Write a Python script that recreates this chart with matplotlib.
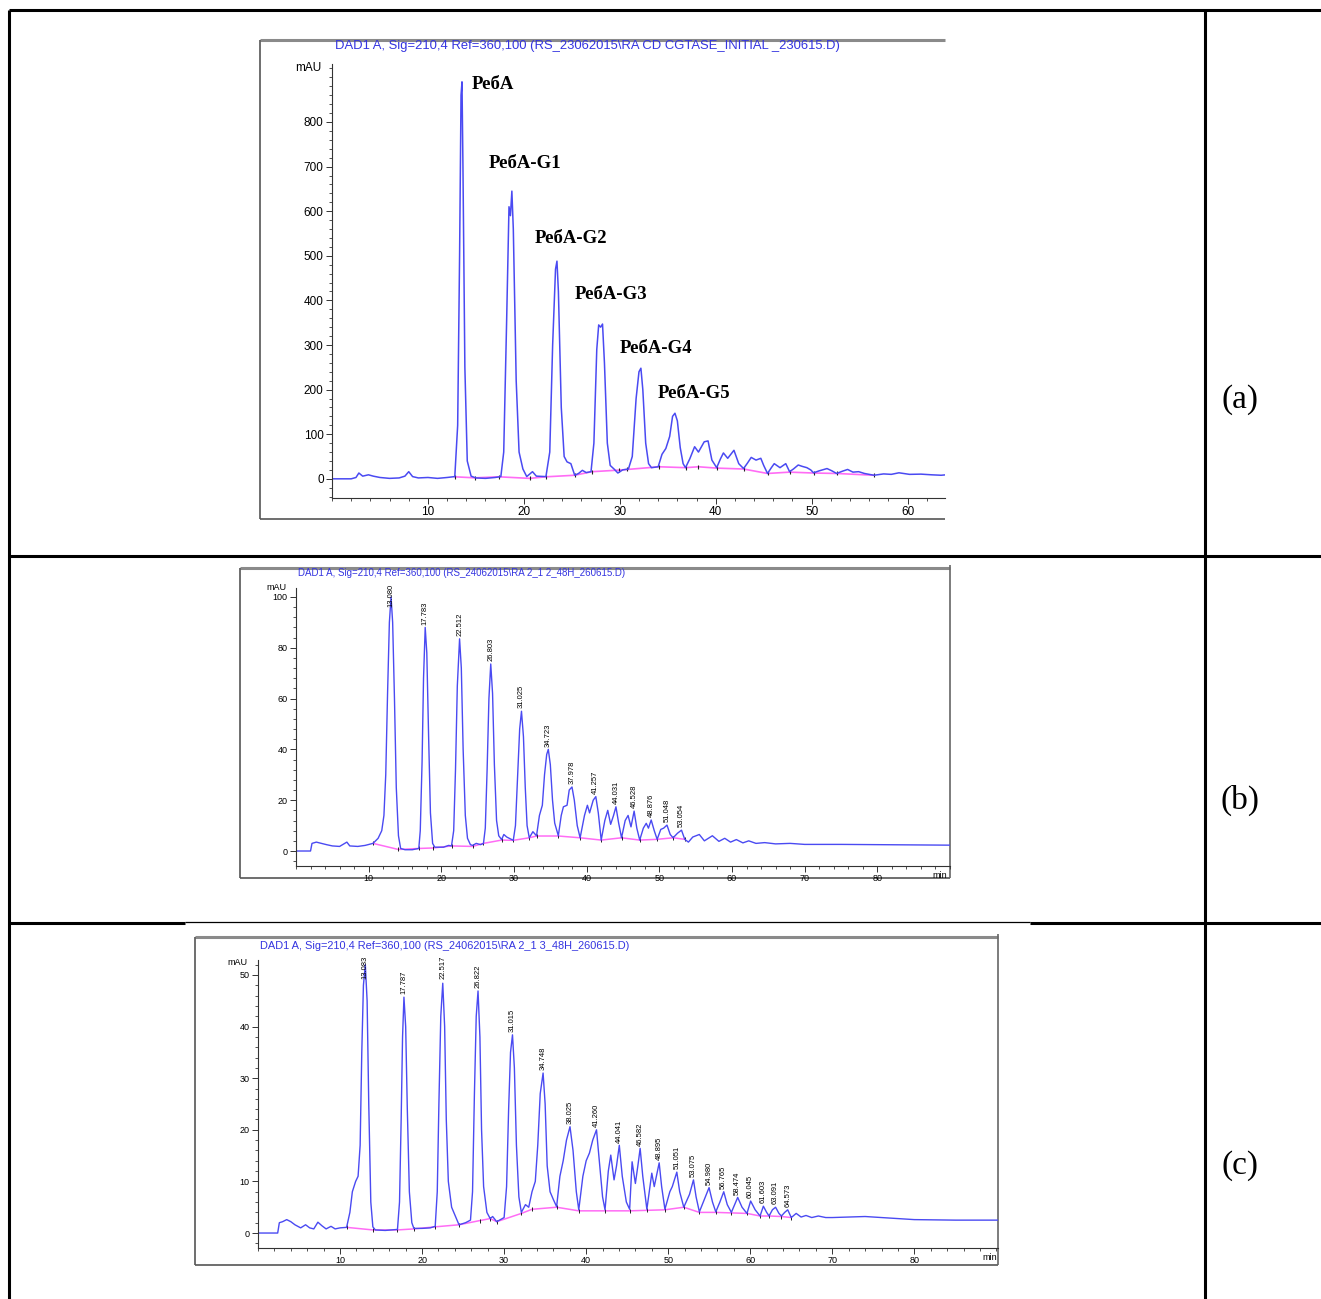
import matplotlib
matplotlib.use('Agg')
import matplotlib.pyplot as plt
from matplotlib.ticker import MultipleLocator

# ---- panel (a): initial reaction, RebA + glucosylated products ----
a_time = [0, 2.0, 2.5, 2.8, 3.2, 3.8, 4.3, 5.0, 6.0, 7.0, 7.6, 8.0, 8.4, 9.0, 10.0, 11.0, 12.0,
          12.8, 13.1, 13.3, 13.45, 13.55, 13.65, 13.85, 14.1, 14.5, 15.0, 16.0, 17.0,
          17.6, 17.9, 18.2, 18.45, 18.6, 18.75, 18.9, 19.2, 19.5, 19.9, 20.3, 20.9, 21.3,
          22.3, 22.7, 23.0, 23.3, 23.45, 23.6, 23.9, 24.2, 24.5, 24.9, 25.3, 25.7, 26.1, 26.5,
          27.0, 27.3, 27.6, 27.8, 28.0, 28.2, 28.4, 28.7, 29.0, 29.4, 29.8, 30.3, 30.9,
          31.3, 31.7, 32.0, 32.2, 32.4, 32.7, 33.0, 33.3, 34.0, 34.4, 34.8, 35.2, 35.5,
          35.75, 36.0, 36.3, 36.6, 36.85, 37.3, 37.8, 38.2, 38.8, 39.2, 39.6, 40.1,
          40.5, 40.8, 41.25, 41.9, 42.4, 42.9, 43.3, 43.7, 44.2, 44.7, 45.0, 45.4,
          45.8, 46.1, 46.7, 47.3, 47.7, 48.1, 48.6, 49.0, 49.5, 49.9, 50.2, 50.8, 51.6,
          52.1, 52.6, 53.2, 53.75, 54.3, 54.9, 55.5, 56.5, 57.5, 58.3, 59.1, 60.2, 61.4,
          62.5, 63.5, 64.0]
a_mau = [0, 0, 3, 13, 6, 9, 6, 3, 1, 2, 6, 16, 5, 2, 3, 1, 3,
         5, 120, 500, 860, 890, 700, 250, 40, 6, 2, 1, 3,
         5, 60, 350, 610, 590, 645, 560, 220, 60, 22, 5, 16, 6,
         5, 60, 300, 470, 488, 420, 160, 50, 38, 34, 8, 12, 19, 14,
         16, 80, 290, 345, 340, 347, 260, 80, 30, 22, 13, 20, 22,
         50, 180, 240, 248, 200, 80, 34, 25, 27, 55, 68, 95, 140,
         147, 130, 70, 34, 25, 45, 72, 60, 83, 85, 42, 25,
         45, 58, 46, 64, 34, 23, 35, 48, 42, 46, 30, 12,
         25, 34, 25, 34, 16, 22, 31, 28, 25, 20, 13.5, 18, 23,
         18, 12, 17, 21, 15, 16, 12, 8, 11, 10, 13.5, 10, 10.5,
         9, 8, 9]
a_base_time = [12.8, 14.9, 17.4, 20.6, 22.3, 25.3, 27.1, 29.9, 30.8, 34.1, 36.85, 38.2,
               40.1, 42.9, 45.4, 47.7, 50.2, 52.6, 56.5]
a_base_mau = [4.5, 2.2, 4.5, 1, 4.5, 8, 16, 19.5, 21, 27, 25, 27,
              24, 22, 12, 15, 13, 12, 8]
a_names = ['\u0420\u0435\u0431\u0410', '\u0420\u0435\u0431\u0410-G1', '\u0420\u0435\u0431\u0410-G2',
           '\u0420\u0435\u0431\u0410-G3', '\u0420\u0435\u0431\u0410-G4', '\u0420\u0435\u0431\u0410-G5']
a_name_pos = [(14.6, 885), (16.35, 706), (21.15, 538), (25.3, 413), (30.0, 292), (33.9, 191)]

# ---- panel (b) ----
b_time = [0, 2.0, 2.2, 2.8, 3.5, 4.2, 5.0, 6.0, 6.6, 7.0, 7.4, 8.5, 9.5, 10.6, 11.3, 11.8,
          12.1, 12.35, 12.6, 12.85, 13.08, 13.3, 13.55, 13.8, 14.1, 14.4, 15.0, 16.0,
          16.9, 17.1, 17.35, 17.55, 17.78, 18.0, 18.25, 18.5, 18.8, 19.1, 19.5, 20.3, 21.0,
          21.4, 21.7, 21.95, 22.2, 22.51, 22.75, 23.0, 23.3, 23.6, 24.0, 24.3, 24.8, 25.4,
          25.8, 26.05, 26.3, 26.55, 26.8, 27.05, 27.3, 27.6, 27.9, 28.3, 28.6, 29.0,
          29.9, 30.2, 30.5, 30.78, 31.03, 31.3, 31.55, 31.8, 32.1, 32.6, 33.1,
          33.5, 33.9, 34.2, 34.5, 34.72, 35.0, 35.3, 35.6, 36.1, 36.5, 36.8, 37.3, 37.6,
          37.98, 38.3, 38.7, 39.1, 39.7, 40.1, 40.4, 40.9, 41.26, 41.6, 42.0, 42.5, 42.9,
          43.3, 43.7, 44.03, 44.4, 44.8, 45.3, 45.7, 46.1, 46.53, 46.9, 47.3, 47.8, 48.2,
          48.5, 48.88, 49.3, 49.7, 50.2, 50.6, 51.05, 51.5, 51.9, 52.5, 53.05, 53.5, 54.0,
          54.6, 55.5, 56.2, 57.3, 58.2, 59.0, 59.8, 60.6, 61.5, 62.3, 63.3, 64.5, 66, 68,
          70, 75, 80, 85, 90]
b_mau = [0, 0, 3, 3.5, 3, 2.5, 2, 1.8, 2.8, 3.5, 2, 1.8, 2.2, 3, 5, 8,
         14, 30, 62, 90, 100, 90, 60, 25, 6, 1, 0.5, 0.5,
         1, 8, 35, 68, 88, 78, 45, 15, 3, 1.5, 1.5, 1.5, 2.2,
         2, 8, 32, 65, 83.5, 72, 40, 14, 5, 2.5, 2.2, 3, 2.5,
         3, 9, 32, 60, 73.6, 62, 34, 12, 6, 4.5, 6.5, 5.5,
         4.2, 10, 30, 48, 55, 45, 25, 10, 5.2, 7.6, 6,
         14, 18, 30, 38, 40, 34, 20, 11, 6, 14, 17.4, 18, 24,
         25.2, 20, 10, 5.2, 14, 18, 15, 20, 21.4, 15, 4.3, 12, 16,
         10.5, 14, 17.4, 11, 5.2, 12, 14, 9.5, 15.7, 9, 4.3, 9, 10.9,
         9, 12.2, 8, 4.6, 8.5, 9, 10.2, 6.5, 5.2, 7, 8.2, 4.6, 3.5,
         5.5, 6.5, 4, 6, 3.8, 5, 3.5, 4.5, 3.2, 4, 3, 3.3, 2.8, 3,
         2.6, 2.6, 2.5, 2.4, 2.3]
b_base_time = [10.6, 14.1, 16.9, 18.9, 21.4, 24.3, 25.8, 28.3, 29.9, 32.1, 33.1, 36.1,
               39.1, 42.0, 44.8, 47.3, 49.7, 51.9, 53.5]
b_base_mau = [3, 0.6, 1, 1.2, 2, 1.8, 3, 4.3, 4.2, 5.2, 5.9, 5.9,
              5.2, 4.3, 5.2, 4.3, 4.6, 5.2, 4.6]
b_rt_labels = ['13.080', '17.783', '22.512', '26.803', '31.025', '34.723', '37.978',
               '41.257', '44.031', '46.528', '48.876', '51.048', '53.054']
b_peak_mau = [100, 88, 83.5, 73.6, 55, 40, 25.2, 21.4, 17.4, 15.7, 12.2, 10.2, 8.2]

# ---- panel (c) ----
c_time = [0, 2.4, 2.6, 3.0, 3.5, 4.0, 4.5, 5.2, 5.8, 6.3, 6.8, 7.3, 7.8, 8.3, 8.9, 9.4, 10.0,
          10.8, 11.2, 11.5, 11.9, 12.2, 12.45, 12.65, 12.85, 13.08, 13.3, 13.5, 13.75, 14.0,
          14.3, 15.5, 17.0, 17.25, 17.45, 17.62, 17.79, 18.0, 18.2, 18.45, 18.75, 19.0,
          20, 21, 21.6, 21.85, 22.05, 22.28, 22.52, 22.75, 22.95, 23.2, 23.6, 24.0, 24.5,
          25.3, 25.9, 26.15, 26.38, 26.6, 26.82, 27.05, 27.25, 27.5, 27.9, 28.3, 28.6, 29.1,
          30.0, 30.3, 30.55, 30.78, 31.02, 31.25, 31.5, 31.8, 32.1, 32.6, 33.0, 33.4,
          33.8, 34.1, 34.4, 34.75, 35.0, 35.25, 35.6, 36.0, 36.4, 36.8, 37.2, 37.6, 38.03,
          38.4, 38.8, 39.1, 39.6, 40.0, 40.4, 40.8, 41.26, 41.6, 42.0, 42.3, 42.7, 43.0,
          43.4, 43.7, 44.04, 44.4, 44.9, 45.3, 45.6, 46.0, 46.3, 46.58, 46.9, 47.4, 48.0,
          48.3, 48.9, 49.2, 49.6, 50.2, 50.5, 51.05, 51.4, 51.9, 52.6, 53.08, 53.4, 53.8,
          54.4, 54.98, 55.4, 55.8, 56.3, 56.77, 57.2, 57.7, 58.1, 58.47, 59.0, 59.6, 60.05,
          60.6, 61.2, 61.6, 62.0, 62.3, 62.7, 63.09, 63.5, 63.8, 64.2, 64.57, 65.0, 65.6,
          66.2, 66.8, 67.5, 68.3, 69.2, 70, 72, 74, 76, 78, 80, 85, 90.2]
c_mau = [0, 0, 2, 2.2, 2.6, 2.2, 1.6, 1, 1.6, 1.0, 0.8, 2.1, 1.4, 0.8, 1.3, 0.8, 1.0,
         1.1, 4, 8, 10, 11, 17, 35, 48, 52, 45, 25, 6, 1.2,
         0.6, 0.5, 0.7, 6, 22, 38, 45.7, 40, 24, 8, 2, 0.9,
         0.9, 1.0, 1.3, 8, 25, 42, 48.4, 40, 22, 10, 5, 3.5, 1.6,
         2, 2.5, 8, 27, 42, 46.9, 38, 20, 9, 4, 2.8, 3.2, 2.2,
         3, 9, 24, 35, 38.4, 32, 17, 7, 4, 5.5, 5, 8,
         10, 17, 27, 31, 25, 13, 8, 6.5, 5.1, 11, 14, 18, 20.6,
         16, 8, 4.5, 11, 14, 15.5, 18, 20, 14, 7, 4.5, 12, 15.1,
         10.3, 13, 17, 11, 6, 4.6, 13.8, 9.6, 13, 16.4, 11, 4.6, 11.6,
         9, 13.6, 9, 4.6, 8, 9, 11.8, 8, 5, 7.5, 10.3, 7, 4.1,
         6.5, 8.8, 6, 4.1, 6, 8, 5.5, 4, 5.5, 6.9, 5, 3.8, 6.2,
         4.5, 3.3, 5.2, 4, 3.3, 4.5, 5, 3.8, 3.3, 4, 4.5, 3, 3.8,
         3.1, 3.4, 3, 3.3, 3, 3, 3.1, 3.2, 3.0, 2.8, 2.6, 2.5, 2.5]
c_base_time = [10.8, 14.0, 17.0, 19.0, 21.6, 24.5, 27.0, 28.3, 29.1, 32.1, 33.4, 36.4,
               39.1, 42.3, 45.3, 47.4, 49.6, 51.9, 53.8, 55.8, 57.7, 59.6, 61.2, 62.3,
               63.8, 65.0]
c_base_mau = [1.1, 0.6, 0.6, 0.8, 1.2, 1.6, 2.4, 2.8, 2.2, 3.8, 4.6, 5.0,
              4.3, 4.3, 4.3, 4.4, 4.5, 5.0, 4.0, 4.0, 3.9, 3.8, 3.3, 3.3,
              3.2, 3.0]
c_rt_labels = ['13.083', '17.787', '22.517', '26.822', '31.015', '34.748', '38.025',
               '41.260', '44.041', '46.582', '48.895', '51.051', '53.075', '54.980',
               '56.765', '58.474', '60.045', '61.603', '63.091', '64.573']
c_peak_mau = [52, 45.7, 48.4, 46.9, 38.4, 31, 20.6, 20, 17, 16.4, 13.6, 11.8, 10.3,
              8.8, 8, 6.9, 6.2, 5.2, 5, 4.5]

titles = ['DAD1 A, Sig=210,4 Ref=360,100 (RS_23062015\\RA CD CGTASE_INITIAL _230615.D)',
          'DAD1 A, Sig=210,4 Ref=360,100 (RS_24062015\\RA 2_1 2_48H_260615.D)',
          'DAD1 A, Sig=210,4 Ref=360,100 (RS_24062015\\RA 2_1 3_48H_260615.D)']
panel_tags = ['(a)', '(b)', '(c)']

W, H = 1321, 1299
SANS = ['Liberation Sans Narrow', 'Liberation Sans', 'DejaVu Sans']
SERIF = ['Liberation Serif', 'DejaVu Serif']
TRACE = '#4a4af2'
BASE = '#ff6cf5'
TITLE_BLUE = '#3434e0'

fig = plt.figure(figsize=(W / 100, H / 100), dpi=100)
renderer = fig.canvas.get_renderer()

# overlay in pixel coordinates for table rules and screenshot frames
ov = fig.add_axes([0, 0, 1, 1])
ov.set_xlim(0, W)
ov.set_ylim(H, 0)
ov.axis('off')


def rule(x0, y0, x1, y1, lw=2.2, color='black'):
    ov.plot([x0, x1], [y0, y1], color=color, lw=lw, solid_capstyle='butt')


# table grid
rule(9, 10, W, 10)
rule(9, 10, 9, H)
rule(1205, 10, 1205, H)
rule(9, 556, W, 556)
rule(9, 923, 185, 923)
rule(185, 922, 1030, 922, lw=0.9)
rule(1030, 923, W, 923)

# chromatogram frames (screenshots)
frames = [(260, 40, 945, 519, False), (240, 568, 950, 878, True), (195, 937, 998, 1265, True)]
for x0, y0, x1, y1, right in frames:
    rule(x0, y0, x1, y0, lw=2.2, color='#8a8a8a')
    rule(x0, y0, x0, y1, lw=1.2, color='#555555')
    rule(x0, y1, x1, y1, lw=1.2, color='#555555')
    if right:
        rule(x1, y0 - 3, x1, y1, lw=1.2, color='#666666')


def fit_text(x0, x1, y, s, **kw):
    t = ov.text(x0, y, s, ha='left', va='center', fontsize=8, family=SANS, **kw)
    w = t.get_window_extent(renderer).width
    t.set_fontsize(8 * (x1 - x0) / w)
    return t


fit_text(335, 840, 46, titles[0], color=TITLE_BLUE)
fit_text(298, 626, 573, titles[1], color=TITLE_BLUE)
fit_text(260, 632, 946, titles[2], color=TITLE_BLUE)

for tag, y in zip(panel_tags, [400, 800, 1166]):
    ov.text(1240, y, tag, ha='center', va='center', fontsize=24, family=SERIF)


def px_axes(x0, y0, x1, y1):
    return fig.add_axes([x0 / W, 1 - y1 / H, (x1 - x0) / W, (y1 - y0) / H])


def style(ax, xlim, ylim, xticks, xminor, yticks, yminor, fs):
    ax.set_facecolor('none')
    ax.set_xlim(*xlim)
    ax.set_ylim(*ylim)
    for s in ('top', 'right'):
        ax.spines[s].set_visible(False)
    for s in ('left', 'bottom'):
        ax.spines[s].set_linewidth(0.8)
        ax.spines[s].set_color('#333333')
    ax.set_xticks(xticks)
    ax.set_yticks(yticks)
    ax.xaxis.set_minor_locator(MultipleLocator(xminor))
    ax.yaxis.set_minor_locator(MultipleLocator(yminor))
    ax.tick_params(which='major', length=4, width=0.7, color='#333333', labelsize=fs, pad=2)
    ax.tick_params(which='minor', length=2, width=0.6, color='#333333')
    for lab in ax.get_xticklabels() + ax.get_yticklabels():
        lab.set_family(SANS)


def rt_labels(ax, labels, heights, fs):
    top = ax.get_ylim()[1]
    for lab, h in zip(labels, heights):
        rt = float(lab)
        if h > top * 0.9:
            ax.annotate(lab, xy=(rt, top), xytext=(0, 3), textcoords='offset points',
                        rotation=90, ha='center', va='top', fontsize=fs, family=SANS,
                        annotation_clip=False)
        else:
            ax.annotate(lab, xy=(rt, h), xytext=(0, 2), textcoords='offset points',
                        rotation=90, ha='center', va='bottom', fontsize=fs, family=SANS,
                        annotation_clip=False)


# panel (a)
ax1 = px_axes(332, 64, 945, 498)
style(ax1, (0, 63.9), (-43, 930), [10, 20, 30, 40, 50, 60], 2,
      [0, 100, 200, 300, 400, 500, 600, 700, 800], 20, 8.5)
ax1.plot(a_base_time, a_base_mau, color=BASE, lw=1.2)
ax1.plot(a_base_time, a_base_mau, ls='none', marker='|', ms=3.5, mew=0.8, color='#222222')
ax1.plot(a_time, a_mau, color=TRACE, lw=1.1)
for name, (tx, ty) in zip(a_names, a_name_pos):
    ax1.text(tx, ty, name, ha='left', va='center', fontsize=13.5, fontweight='bold',
             family=SERIF)
ov.text(321, 68, 'mAU', ha='right', va='center', fontsize=8.5, family=SANS)

# panel (b)
ax2 = px_axes(296, 588, 950, 866)
style(ax2, (0, 90), (-5.9, 103.5), [10, 20, 30, 40, 50, 60, 70, 80], 2,
      [0, 20, 40, 60, 80, 100], 4, 6.5)
ax2.plot(b_base_time, b_base_mau, color=BASE, lw=1.1)
ax2.plot(b_base_time, b_base_mau, ls='none', marker='|', ms=3, mew=0.7, color='#222222')
ax2.plot(b_time, b_mau, color=TRACE, lw=1.0)
rt_labels(ax2, b_rt_labels, b_peak_mau, 5.5)
ov.text(287, 587, 'mAU', ha='right', va='center', fontsize=6.5, family=SANS)
ov.text(940, 875, 'min', ha='center', va='center', fontsize=6.5, family=SANS)

# panel (c)
ax3 = px_axes(258, 960, 998, 1248)
style(ax3, (0, 90.2), (-2.9, 52.9), [10, 20, 30, 40, 50, 60, 70, 80], 2,
      [0, 10, 20, 30, 40, 50], 2, 6.5)
ax3.plot(c_base_time, c_base_mau, color=BASE, lw=1.1)
ax3.plot(c_base_time, c_base_mau, ls='none', marker='|', ms=3, mew=0.7, color='#222222')
ax3.plot(c_time, c_mau, color=TRACE, lw=1.0)
rt_labels(ax3, c_rt_labels, c_peak_mau, 5.5)
ov.text(248, 962, 'mAU', ha='right', va='center', fontsize=6.5, family=SANS)
ov.text(990, 1257, 'min', ha='center', va='center', fontsize=6.5, family=SANS)

fig.savefig('out.png', dpi=100)
plt.close(fig)
